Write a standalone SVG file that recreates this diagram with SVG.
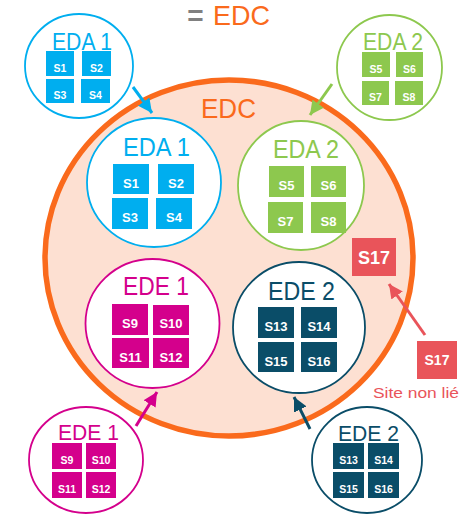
<svg xmlns="http://www.w3.org/2000/svg" width="473" height="515" viewBox="0 0 473 515">
<style>
text{font-family:"Liberation Sans",Arial,sans-serif}
.lbl{font-weight:normal}
.sq{fill:#fff;font-weight:bold;text-anchor:middle}
.blue{fill:#00AEEF}.green{fill:#8DC84E}.mag{fill:#D4008C}.teal{fill:#0A4D68}.red{fill:#E9545A}
.c{fill:#fff;stroke-width:1.8}
.arr{stroke-width:3;fill:none}
</style>
<defs>
<marker id="mb" markerUnits="userSpaceOnUse" markerWidth="15" markerHeight="14" refX="14" refY="7" orient="auto"><path d="M0,0 L14,7 L0,14 z" fill="#00AEEF"/></marker>
<marker id="mg" markerUnits="userSpaceOnUse" markerWidth="15" markerHeight="14" refX="14" refY="7" orient="auto"><path d="M0,0 L14,7 L0,14 z" fill="#8DC84E"/></marker>
<marker id="mm" markerUnits="userSpaceOnUse" markerWidth="15" markerHeight="14" refX="14" refY="7" orient="auto"><path d="M0,0 L14,7 L0,14 z" fill="#D4008C"/></marker>
<marker id="mt" markerUnits="userSpaceOnUse" markerWidth="15" markerHeight="14" refX="14" refY="7" orient="auto"><path d="M0,0 L14,7 L0,14 z" fill="#0A4D68"/></marker>
<marker id="mr" markerUnits="userSpaceOnUse" markerWidth="15" markerHeight="14" refX="14" refY="7" orient="auto"><path d="M0,0 L14,7 L0,14 z" fill="#E9545A"/></marker>
</defs>
<rect width="473" height="515" fill="#fff"/>

<g id="title">
<text x="195.5" y="25" font-size="28" font-weight="bold" fill="#808080" text-anchor="middle">=</text>
<text x="213" y="25" font-size="28" fill="#FA6A1C" textLength="57" lengthAdjust="spacingAndGlyphs">EDC</text>
</g>

<g id="edc">
<ellipse cx="229" cy="258" rx="184" ry="178" fill="#FDE0D2" stroke="#FA6A1C" stroke-width="5.5"/>
<text x="201" y="118" font-size="28" fill="#FA6A1C" textLength="55" lengthAdjust="spacingAndGlyphs">EDC</text>
</g>

<g id="eda1-in">
<ellipse class="c" cx="154" cy="182.5" rx="67" ry="64.5" stroke="#00AEEF"/>
<text x="123" y="156" font-size="25" fill="#00AEEF" textLength="67" lengthAdjust="spacingAndGlyphs">EDA 1</text>
<rect class="blue" x="113" y="164" width="36" height="30"/><text class="sq" x="131" y="187.5" font-size="13">S1</text>
<rect class="blue" x="158" y="164" width="36" height="30"/><text class="sq" x="176" y="187.5" font-size="13">S2</text>
<rect class="blue" x="112" y="198" width="36" height="31"/><text class="sq" x="130" y="222" font-size="13">S3</text>
<rect class="blue" x="156" y="198" width="36" height="31"/><text class="sq" x="174" y="222" font-size="13">S4</text>
</g>

<g id="eda2-in">
<ellipse class="c" cx="301" cy="185.5" rx="63" ry="64.5" stroke="#8DC84E"/>
<text x="273" y="158" font-size="25" fill="#8DC84E" textLength="66" lengthAdjust="spacingAndGlyphs">EDA 2</text>
<rect class="green" x="269" y="166" width="35" height="31"/><text class="sq" x="286.5" y="190" font-size="13">S5</text>
<rect class="green" x="311" y="166" width="35" height="31"/><text class="sq" x="328.5" y="190" font-size="13">S6</text>
<rect class="green" x="268" y="202" width="35" height="31"/><text class="sq" x="285.5" y="226" font-size="13">S7</text>
<rect class="green" x="311" y="202" width="35" height="31"/><text class="sq" x="328.5" y="226" font-size="13">S8</text>
</g>

<g id="ede1-in">
<ellipse class="c" cx="152.5" cy="323.5" rx="67" ry="64.5" stroke="#D4008C"/>
<text x="123" y="295" font-size="25" fill="#D4008C" textLength="66" lengthAdjust="spacingAndGlyphs">EDE 1</text>
<rect class="mag" x="112" y="304" width="36" height="31"/><text class="sq" x="130" y="328" font-size="13">S9</text>
<rect class="mag" x="153" y="305" width="36" height="30"/><text class="sq" x="171" y="328" font-size="13">S10</text>
<rect class="mag" x="112" y="338" width="37" height="30"/><text class="sq" x="130.5" y="361.5" font-size="13">S11</text>
<rect class="mag" x="153" y="338" width="36" height="30"/><text class="sq" x="171" y="361.5" font-size="13">S12</text>
</g>

<g id="ede2-in">
<ellipse class="c" cx="299" cy="327.5" rx="66" ry="65.5" stroke="#0A4D68"/>
<text x="268" y="300" font-size="25" fill="#0A4D68" textLength="67" lengthAdjust="spacingAndGlyphs">EDE 2</text>
<rect class="teal" x="258" y="307" width="36" height="31"/><text class="sq" x="276" y="331" font-size="13">S13</text>
<rect class="teal" x="301" y="307" width="36" height="31"/><text class="sq" x="319" y="331" font-size="13">S14</text>
<rect class="teal" x="258" y="342" width="36" height="30"/><text class="sq" x="276" y="365.5" font-size="13">S15</text>
<rect class="teal" x="301" y="342" width="36" height="30"/><text class="sq" x="319" y="365.5" font-size="13">S16</text>
</g>

<g id="s17-in">
<rect class="red" x="352" y="238" width="44" height="38"/><text class="sq" x="374" y="264" font-size="18">S17</text>
</g>

<g id="eda1-out">
<ellipse class="c" cx="79" cy="66" rx="54" ry="52" stroke="#00AEEF"/>
<text x="52" y="50" font-size="23" fill="#00AEEF" textLength="60" lengthAdjust="spacingAndGlyphs">EDA 1</text>
<rect class="blue" x="46" y="51" width="28" height="25"/><text class="sq" x="60" y="72" font-size="10.5">S1</text>
<rect class="blue" x="82" y="51" width="29" height="25"/><text class="sq" x="96.5" y="72" font-size="10.5">S2</text>
<rect class="blue" x="46" y="79" width="28" height="24"/><text class="sq" x="60" y="99" font-size="10.5">S3</text>
<rect class="blue" x="81" y="79" width="29" height="24"/><text class="sq" x="95.5" y="99" font-size="10.5">S4</text>
</g>

<g id="eda2-out">
<ellipse class="c" cx="389.5" cy="67.5" rx="52.5" ry="52.5" stroke="#8DC84E"/>
<text x="363" y="50" font-size="23" fill="#8DC84E" textLength="60" lengthAdjust="spacingAndGlyphs">EDA 2</text>
<rect class="green" x="362" y="52" width="28" height="25"/><text class="sq" x="376" y="73" font-size="10.5">S5</text>
<rect class="green" x="396" y="52" width="27" height="25"/><text class="sq" x="409.5" y="73" font-size="10.5">S6</text>
<rect class="green" x="362" y="81" width="27" height="24"/><text class="sq" x="375.5" y="101" font-size="10.5">S7</text>
<rect class="green" x="395" y="81" width="28" height="24"/><text class="sq" x="409" y="101" font-size="10.5">S8</text>
</g>

<g id="ede1-out">
<ellipse class="c" cx="86" cy="460" rx="57" ry="53" stroke="#D4008C"/>
<text x="58" y="440" font-size="22" fill="#D4008C" textLength="61" lengthAdjust="spacingAndGlyphs">EDE 1</text>
<rect class="mag" x="52" y="443" width="30" height="26"/><text class="sq" x="67" y="464" font-size="10.5">S9</text>
<rect class="mag" x="86" y="443" width="30" height="26"/><text class="sq" x="101" y="464" font-size="10.5">S10</text>
<rect class="mag" x="52" y="472" width="30" height="26"/><text class="sq" x="67" y="493" font-size="10.5">S11</text>
<rect class="mag" x="86" y="472" width="30" height="26"/><text class="sq" x="101" y="493" font-size="10.5">S12</text>
</g>

<g id="ede2-out">
<ellipse class="c" cx="367" cy="460" rx="55" ry="53" stroke="#0A4D68"/>
<text x="338" y="441" font-size="22" fill="#0A4D68" textLength="61" lengthAdjust="spacingAndGlyphs">EDE 2</text>
<rect class="teal" x="333" y="443" width="31" height="26"/><text class="sq" x="348.5" y="464" font-size="10.5">S13</text>
<rect class="teal" x="368" y="443" width="31" height="26"/><text class="sq" x="383.5" y="464" font-size="10.5">S14</text>
<rect class="teal" x="333" y="472" width="31" height="26"/><text class="sq" x="348.5" y="493" font-size="10.5">S15</text>
<rect class="teal" x="368" y="472" width="31" height="26"/><text class="sq" x="383.5" y="493" font-size="10.5">S16</text>
</g>

<g id="s17-out">
<rect class="red" x="417" y="341" width="40" height="38"/><text class="sq" x="437" y="365" font-size="14">S17</text>
<text x="373" y="398" font-size="15" fill="#E9545A" textLength="86" lengthAdjust="spacingAndGlyphs">Site non lié</text>
</g>

<g id="connectors">
<line class="arr" x1="133" y1="87" x2="152" y2="113" stroke="#00AEEF" marker-end="url(#mb)"/>
<line class="arr" x1="332" y1="84" x2="310" y2="115" stroke="#8DC84E" marker-end="url(#mg)"/>
<line class="arr" x1="136" y1="426" x2="157" y2="392" stroke="#D4008C" marker-end="url(#mm)"/>
<line class="arr" x1="310" y1="429" x2="294" y2="397" stroke="#0A4D68" marker-end="url(#mt)"/>
<line class="arr" x1="425" y1="335" x2="389" y2="284" stroke="#E9545A" marker-end="url(#mr)"/>
</g>
</svg>
